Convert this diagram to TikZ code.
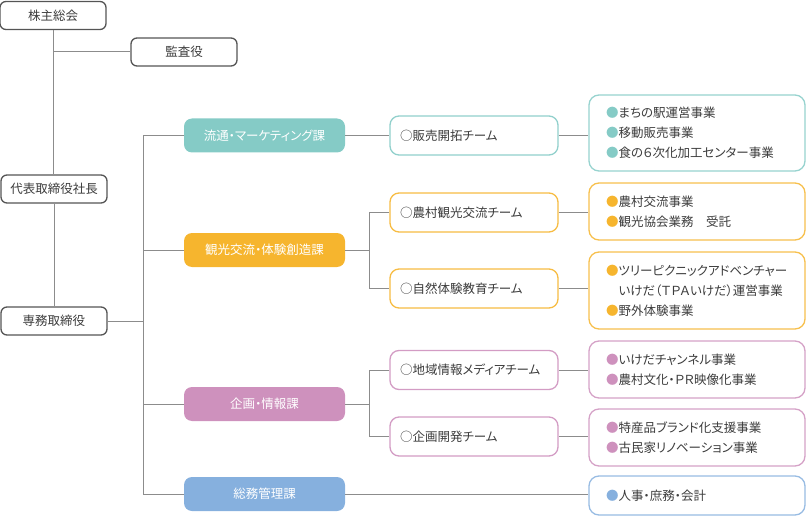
\documentclass[tikz,border=0pt]{standalone}
\usepackage{fontspec}
\setmainfont[RawFeature=+palt]{Noto Sans CJK JP}
\usepackage{tikz}

\definecolor{txt}{HTML}{3C3C3C}
\definecolor{execline}{HTML}{555555}
\definecolor{linecol}{HTML}{8C8C8C}
\definecolor{ryutsucol}{HTML}{85CBC6}
\definecolor{kankocol}{HTML}{F6B52E}
\definecolor{kikakucol}{HTML}{CE91BD}
\definecolor{somucol}{HTML}{86B0DE}

\tikzset{
	exec/.style={draw=execline, line width=1.3pt, rounded corners=6pt, fill=white,
		minimum width=106pt, minimum height=28pt, inner sep=0pt, text=txt,
		font=\fontsize{12.5}{14}\selectfont},
	dept/.style={fill=#1, rounded corners=8pt, minimum width=161pt, minimum height=34pt,
		inner sep=0pt, text=white, font=\fontsize{12.5}{14}\selectfont},
	team/.style={draw=#1!90, line width=1.3pt, rounded corners=9pt, fill=white,
		text width=148pt, inner xsep=10pt, inner ysep=0pt, minimum height=39pt,
		align=left, text=txt, font=\fontsize{12.5}{14}\selectfont},
	work/.style={draw=#1!85, line width=1.3pt, rounded corners=10pt, fill=white,
		text width=182pt, inner xsep=17pt, inner ysep=0pt,
		align=left, text=txt, font=\fontsize{12.5}{20}\selectfont},
	link/.style={draw=linecol, line width=1pt}
}
\newcommand{\bul}[1]{\textcolor{#1}{●}}

\begin{document}
\begin{tikzpicture}[x=1pt,y=-1pt]
		\useasboundingbox (0,0) rectangle (806,516);

		% executives
		\node[exec] (kabunushi) at (53,15.5) {株主総会};
		\node[exec] (kansa) at (184,52) {監査役};
		\node[exec] (daihyo) at (54,189) {代表取締役社長};
		\node[exec] (senmu) at (54,321) {専務取締役};

		% departments
		\node[dept=ryutsucol] (ryutsu) at (264.5,135.5) {流通・マーケティング課};
		\node[dept=kankocol] (kanko) at (264.5,250) {観光交流・体験創造課};
		\node[dept=kikakucol] (kikaku) at (264.5,404) {企画・情報課};
		\node[dept=somucol] (somu) at (264.5,494) {総務管理課};

		% teams
		\node[team=ryutsucol] (hanbai) at (474,135.5) {○販売開拓チーム};
		\node[team=kankocol] (noson) at (474,212.5) {○農村観光交流チーム};
		\node[team=kankocol] (shizen) at (474,288.5) {○自然体験教育チーム};
		\node[team=kikakucol] (chiiki) at (474,370) {○地域情報メディアチーム};
		\node[team=kikakucol] (kaihatsu) at (474,436.5) {○企画開発チーム};

		% works
		\node[work=ryutsucol, minimum height=76pt] (w1) at (697,133)
			{\bul{ryutsucol}まちの駅運営事業\\\bul{ryutsucol}移動販売事業\\\bul{ryutsucol}食の６次化加工センター事業};
		\node[work=kankocol, minimum height=57pt] (w2) at (697,211.5)
			{\bul{kankocol}農村交流事業\\\bul{kankocol}観光協会業務　受託};
		\node[work=kankocol, minimum height=77pt] (w3) at (697,290.5)
			{\bul{kankocol}ツリーピクニックアドベンチャー\\\phantom{\bul{kankocol}}いけだ（ＴＰＡいけだ）運営事業\\\bul{kankocol}野外体験事業};
		\node[work=kikakucol, minimum height=57pt] (w4) at (697,369.5)
			{\bul{kikakucol}いけだチャンネル事業\\\bul{kikakucol}農村文化・ＰＲ映像化事業};
		\node[work=kikakucol, minimum height=57pt] (w5) at (697,437.5)
			{\bul{kikakucol}特産品ブランド化支援事業\\\bul{kikakucol}古民家リノベーション事業};
		\node[work=somucol, minimum height=39pt] (w6) at (697,495.5)
			{\bul{somucol}人事・庶務・会計};

		\coordinate (trunk) at (143,321);
		\coordinate (sub) at (369,250);

		% connectors
		\draw[link] (kabunushi.south) -- (kabunushi.south |- daihyo.north);
		\draw[link] (kabunushi.south |- kansa) -- (kansa.west);
		\draw[link] (daihyo.south) -- (senmu.north);
		\draw[link] (senmu.east) -- (trunk);
		\draw[link] (trunk |- ryutsu) -- (trunk |- somu);
		\foreach \d in {ryutsu,kanko,kikaku,somu}
			\draw[link] (trunk |- \d) -- (\d.west);
		\draw[link] (ryutsu.east) -- (hanbai.west);
		\draw[link] (kanko.east) -- (sub |- kanko);
		\draw[link] (sub |- noson) -- (sub |- shizen);
		\draw[link] (sub |- noson) -- (noson.west);
		\draw[link] (sub |- shizen) -- (shizen.west);
		\draw[link] (kikaku.east) -- (sub |- kikaku);
		\draw[link] (sub |- chiiki) -- (sub |- kaihatsu);
		\draw[link] (sub |- chiiki) -- (chiiki.west);
		\draw[link] (sub |- kaihatsu) -- (kaihatsu.west);
		\draw[link] (hanbai.east) -- (hanbai.east -| w1.west);
		\draw[link] (noson.east) -- (noson.east -| w2.west);
		\draw[link] (shizen.east) -- (shizen.east -| w3.west);
		\draw[link] (chiiki.east) -- (chiiki.east -| w4.west);
		\draw[link] (kaihatsu.east) -- (kaihatsu.east -| w5.west);
		\draw[link] (somu.east) -- (somu.east -| w6.west);
	\end{tikzpicture}
\end{document}
